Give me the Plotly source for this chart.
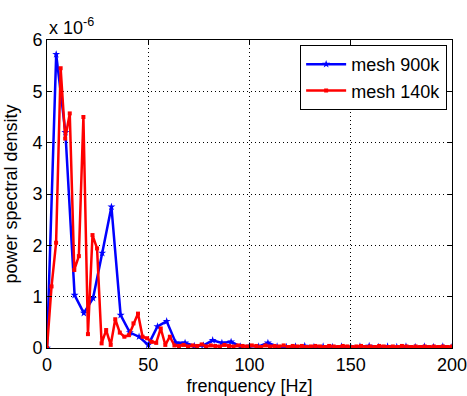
import numpy as np
import plotly.graph_objects as go

# values in units of 1e-6
blue_vals = [0, 5.72, 4.2, 1.03, 0.68, 0.97, 1.85, 2.75, 0.64, 0.3, 0.22, 0.06, 0.42, 0.52, 0.1,
             0.1, 0.04, 0.05, 0.15, 0.1, 0.12, 0.03, 0.04, 0.03, 0.1, 0.03, 0.02, 0.03, 0.04, 0.02,
             0.03, 0.02, 0.03, 0.02, 0.03, 0.04, 0.02, 0.03, 0.02, 0.03, 0.02, 0.03, 0.02, 0.03, 0.02]
red_vals = [0, 1.2, 2.05, 5.45, 4.08, 4.57, 1.52, 1.79, 4.5, 0.27, 2.2, 1.94, 0.09, 0.35, 0.06,
            0.56, 0.3, 0.22, 0.25, 0.48, 0.67, 0.22, 0.19, 0.12, 0.1, 0.38, 0.06, 0.22,
            0.05, 0.04, 0.06, 0.03, 0.05, 0.04, 0.07, 0.03, 0.05, 0.04, 0.03, 0.06, 0.04, 0.03,
            0.05, 0.04, 0.03, 0.05, 0.04, 0.02, 0.05, 0.03, 0.04, 0.03, 0.05, 0.02, 0.04, 0.03,
            0.04, 0.02, 0.03, 0.04, 0.03, 0.02, 0.04, 0.03, 0.02, 0.04, 0.03, 0.02, 0.03, 0.04,
            0.02, 0.03, 0.02, 0.04, 0.03, 0.02, 0.03, 0.02, 0.04, 0.03, 0.02, 0.03, 0.02, 0.03,
            0.02, 0.03, 0.02, 0.03, 0.02, 0.03]
blue_freq = np.linspace(0, 200, len(blue_vals))
red_freq = np.linspace(0, 200, len(red_vals))

x_ticks = [0, 50, 100, 150, 200]
y_ticks = [0, 1, 2, 3, 4, 5, 6]

FONT = "Liberation Sans, Arial, Helvetica, sans-serif"

fig = go.Figure()
fig.add_trace(go.Scatter(x=blue_freq, y=blue_vals, mode="lines+markers", name="mesh 900k",
                         line=dict(color="#0000ff", width=2.5),
                         marker=dict(symbol="star", size=6, color="#0000ff")))
fig.add_trace(go.Scatter(x=red_freq, y=red_vals, mode="lines+markers", name="mesh 140k",
                         line=dict(color="#ff0000", width=2.5),
                         marker=dict(symbol="square", size=4, color="#ff0000")))

axis_common = dict(showline=True, linecolor="black", linewidth=1, mirror="allticks",
                   ticks="inside", ticklen=5, tickcolor="black", showgrid=True,
                   gridcolor="black", griddash="1px,3px", gridwidth=1, zeroline=False,
                   ticklabeloverflow="allow",
                   tickfont=dict(size=18, color="black", family=FONT))

fig.update_xaxes(range=[0, 200], tickvals=x_ticks, **axis_common,
                 title=dict(text="frenquency [Hz]", standoff=6,
                            font=dict(size=18, color="black", family=FONT)))
fig.update_yaxes(range=[0, 6], tickvals=y_ticks, **axis_common,
                 title=dict(text="power spectral density", standoff=10,
                            font=dict(size=18, color="black", family=FONT)))

fig.add_annotation(xref="paper", yref="paper", x=0, y=1, xanchor="left", yanchor="bottom",
                   text="x 10<sup>-6</sup>", showarrow=False, yshift=0,
                   font=dict(size=18, color="black", family=FONT))

fig.update_layout(
    width=467, height=396,
    margin=dict(l=47, r=15, t=40, b=48, autoexpand=False),
    paper_bgcolor="white", plot_bgcolor="white",
    font=dict(family=FONT, size=18, color="black"),
    showlegend=True,
    legend=dict(x=0.988, y=0.984, xanchor="right", yanchor="top",
                bgcolor="white", bordercolor="black", borderwidth=1,
                font=dict(size=18, color="black", family=FONT),
                tracegroupgap=0, itemwidth=40),
)

fig.write_html("out.html")
